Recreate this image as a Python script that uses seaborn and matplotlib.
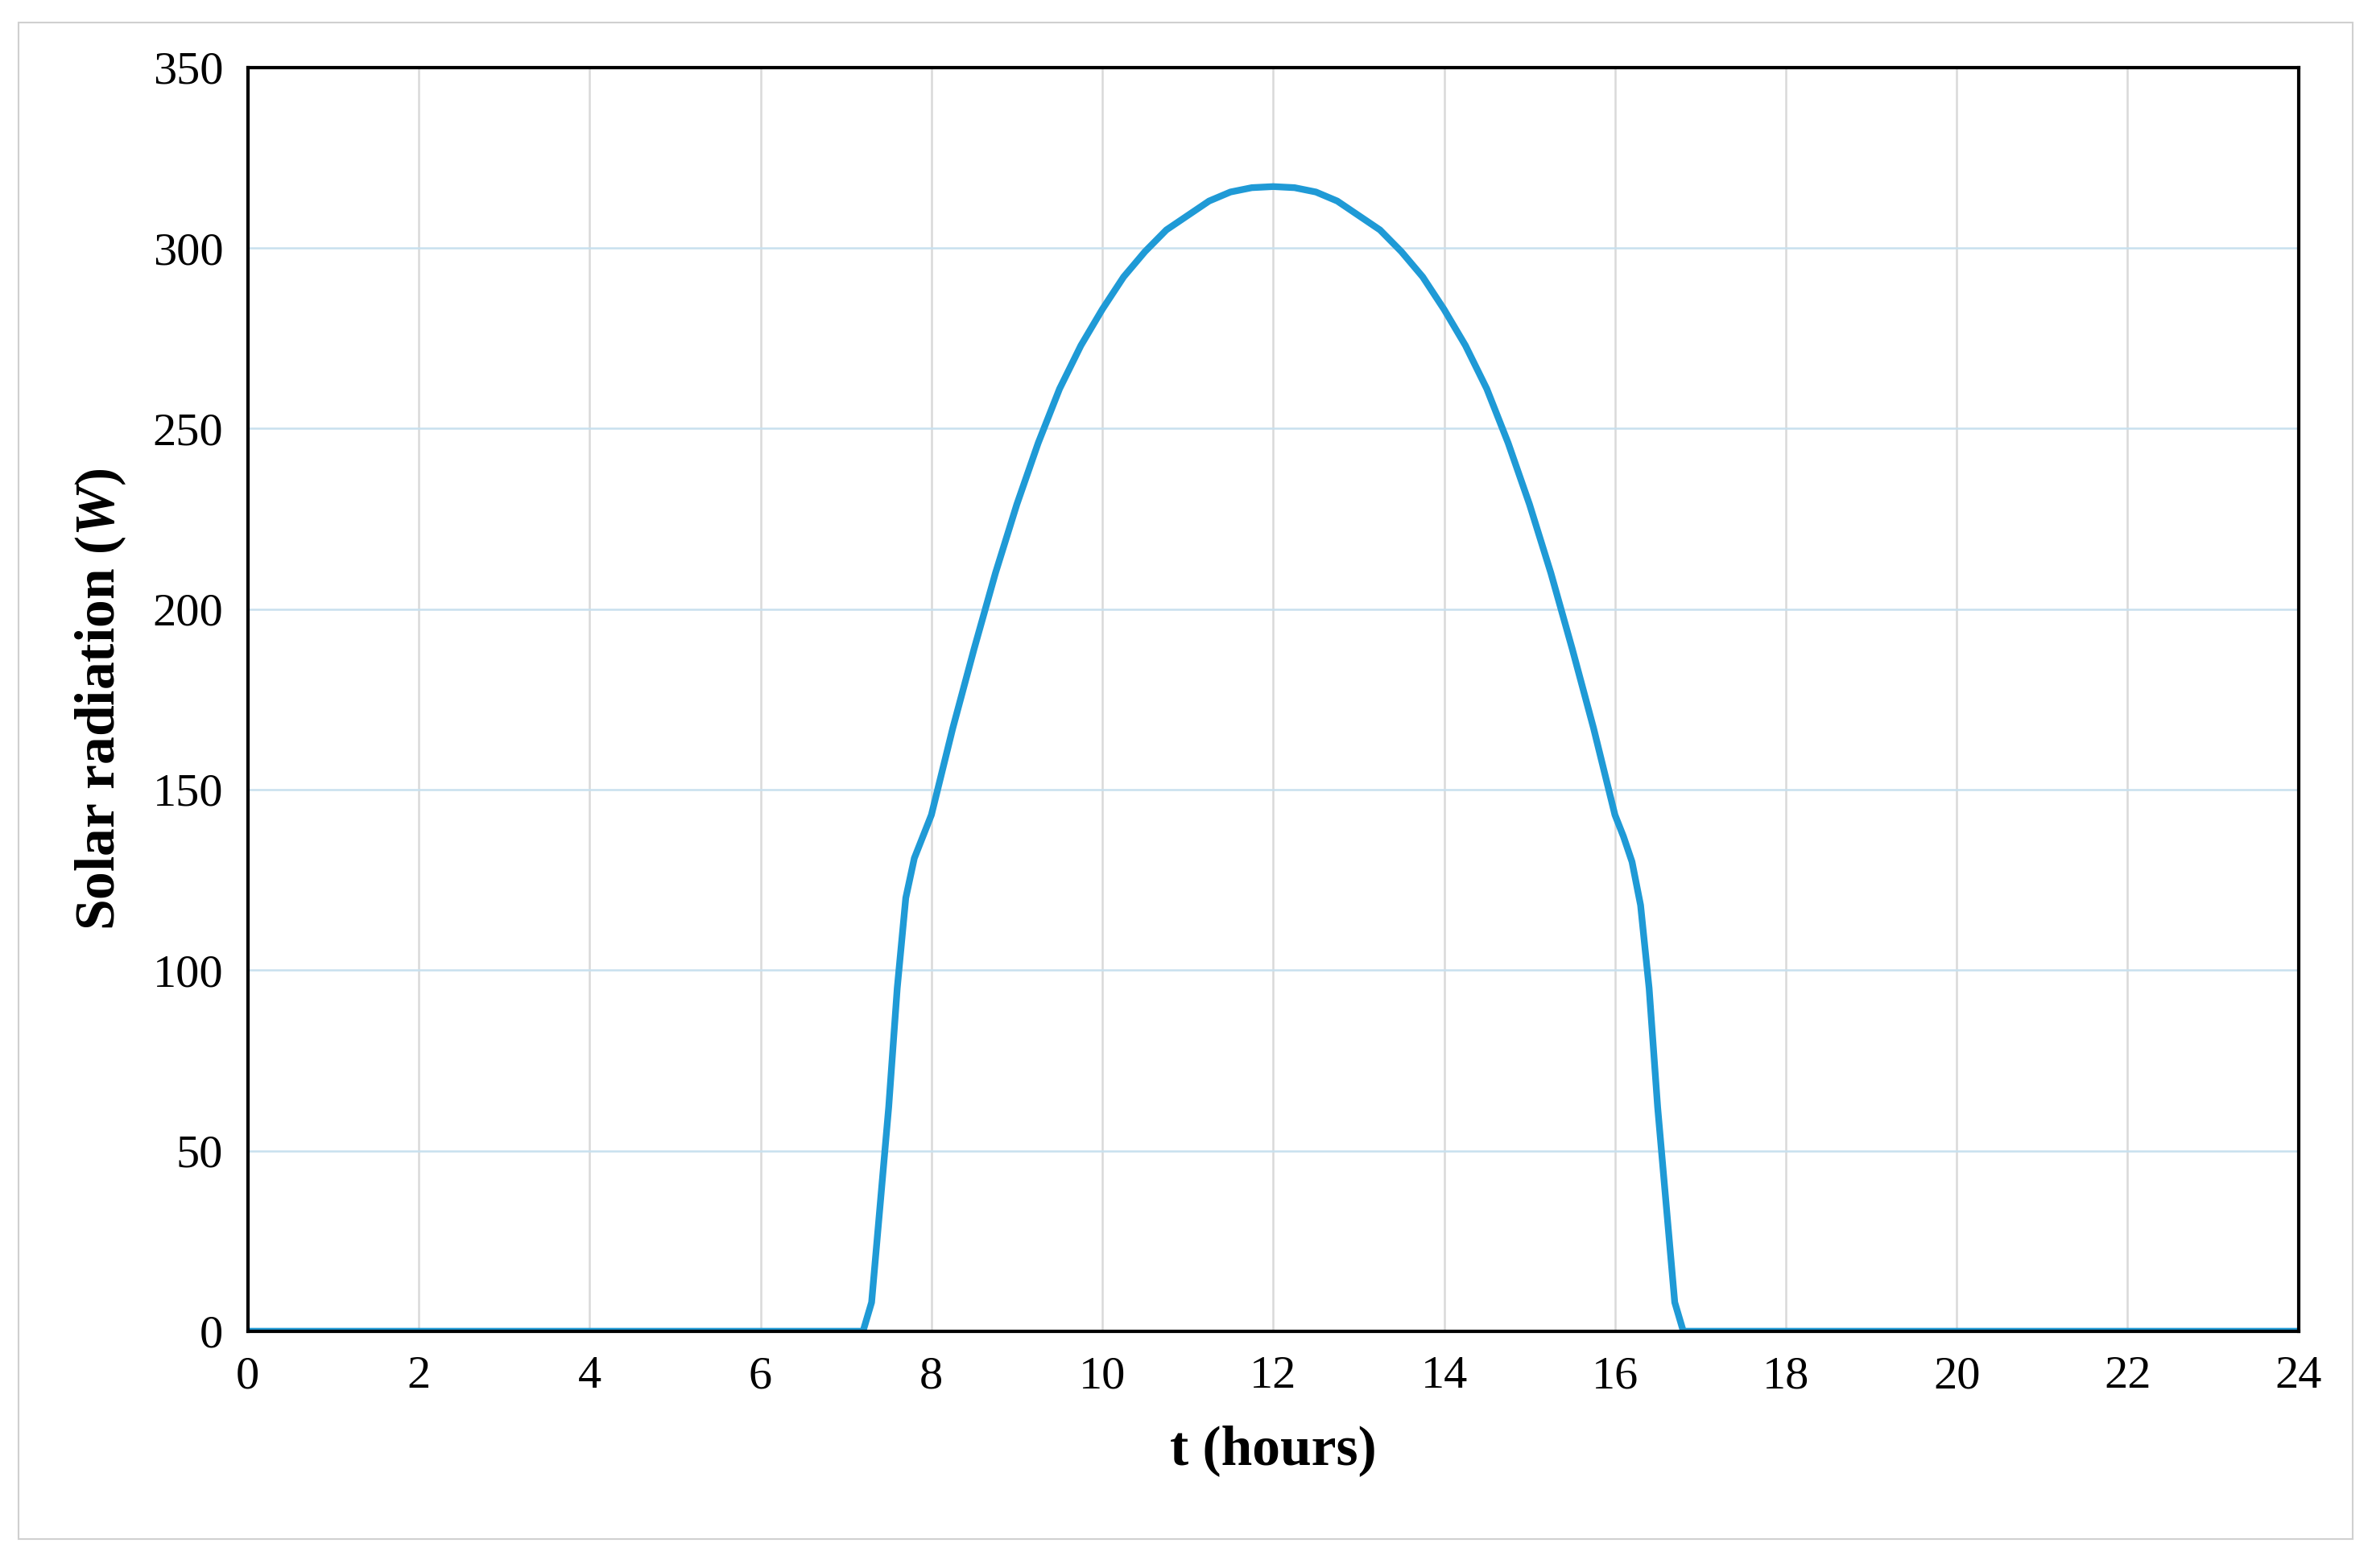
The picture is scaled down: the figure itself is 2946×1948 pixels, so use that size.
import matplotlib
matplotlib.use("Agg")
import matplotlib.pyplot as plt
import seaborn as sns
import pandas as pd
from matplotlib.patches import Rectangle

hours = [0, 1, 2, 3, 4, 5, 6, 7.0, 7.2, 7.3, 7.4, 7.5, 7.6, 7.7, 7.8, 7.9, 8.0,
         8.25, 8.5, 8.75, 9.0, 9.25, 9.5, 9.75, 10.0, 10.25, 10.5, 10.75, 11.0,
         11.25, 11.5, 11.75, 12.0, 12.25, 12.5, 12.75, 13.0, 13.25, 13.5, 13.75,
         14.0, 14.25, 14.5, 14.75, 15.0, 15.25, 15.5, 15.75, 16.0, 16.1, 16.2,
         16.3, 16.4, 16.5, 16.6, 16.7, 16.8, 17, 18, 19, 20, 21, 22, 23, 24]
radiation = [0, 0, 0, 0, 0, 0, 0, 0, 0, 8, 35, 62, 95, 120, 131, 137, 143,
             167, 189, 210, 229, 246, 261, 273, 283, 292, 299, 305, 309,
             313, 315.5, 316.7, 317, 316.7, 315.5, 313, 309, 305, 299, 292,
             283, 273, 261, 246, 229, 210, 189, 167, 143, 137, 130,
             118, 95, 62, 35, 8, 0, 0, 0, 0, 0, 0, 0, 0, 0]

df = pd.DataFrame({"t": hours, "W": radiation})

sns.set_theme(style="white")
plt.rcParams['font.family'] = ['Liberation Serif', 'DejaVu Serif']
plt.rcParams['mathtext.fontset'] = 'custom'
plt.rcParams['mathtext.bfit'] = 'Liberation Serif:italic:bold'
plt.rcParams['mathtext.it'] = 'Liberation Serif:italic:bold'

fig = plt.figure(figsize=(29.46, 19.48), dpi=100)
ax = fig.add_axes([0.1045, 0.151, 0.8645, 0.806])
sns.lineplot(data=df, x="t", y="W", ax=ax, color="#1f9ad6", linewidth=6)

ax.set_xlim(0, 24)
ax.set_ylim(0, 350)
ax.set_xticks(range(0, 25, 2))
ax.set_yticks(range(0, 351, 50))
ax.xaxis.grid(True, color="#d9d9d9", linewidth=1.8)
ax.yaxis.grid(True, color="#c8e0ee", linewidth=1.8)
ax.set_axisbelow(True)
for s in ax.spines.values():
    s.set_color("black")
    s.set_linewidth(3)
ax.tick_params(labelsize=42, length=0, pad=22, colors="black")
ax.set_xlabel("t (hours)", fontsize=50, fontweight="bold", labelpad=24, color="black")
ax.set_ylabel("Solar radiation ($\\mathit{W}$)", fontsize=50, fontweight="bold",
              labelpad=22, color="black")

fig.patches.append(Rectangle((0.0077, 0.0185), 0.984, 0.967, transform=fig.transFigure,
                             fill=False, edgecolor="#d0d0d0", linewidth=1.5))
fig.savefig("out.png", dpi=100, facecolor="white")
